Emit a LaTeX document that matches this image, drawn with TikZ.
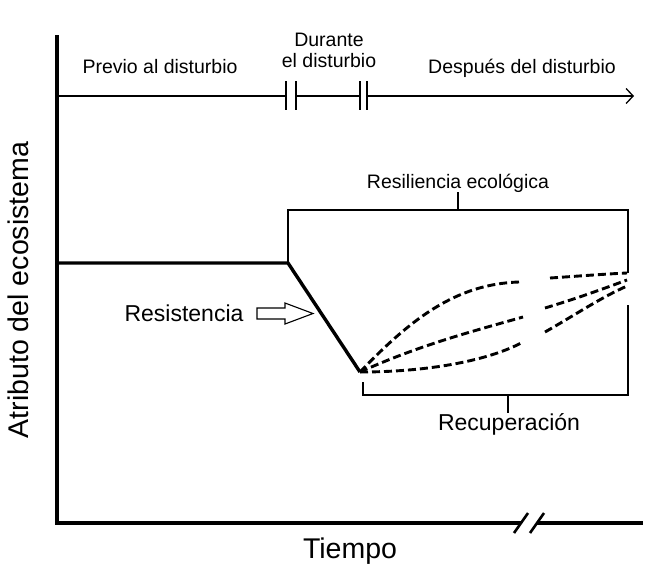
\documentclass[tikz,border=0pt]{standalone}
\usepackage{fontspec}
\setmainfont{Liberation Sans}
\usetikzlibrary{arrows.meta}

\begin{document}
\begin{tikzpicture}[
    x=1pt, y=-1pt,
    axis/.style={line width=3.5pt},
    thinline/.style={line width=1.3pt},
    recov/.style={line width=2.9pt, dash pattern=on 8pt off 4pt},
    lbl/.style={font=\fontsize{19.5}{22}\selectfont, anchor=base, inner sep=0pt},
    biglbl/.style={font=\fontsize{23}{26}\selectfont, anchor=base, inner sep=0pt},
    axlbl/.style={font=\fontsize{28.5}{32}\selectfont, anchor=base, inner sep=0pt},
]
\useasboundingbox (0,0) rectangle (650,574);

% Axes
\coordinate (origin) at (57,523);
\coordinate (ytop) at (57,35);
\coordinate (brkL) at (521,523);
\coordinate (brkR) at (537,523);
\coordinate (xend) at (643,523);
\draw[axis] (ytop) -- (origin) -- (brkL);
\draw[axis] (brkR) -- (xend);
\draw[line width=2.6pt] (514,533) -- (528,513);
\draw[line width=2.6pt] (530,533) -- (544,513);

\node[axlbl, rotate=90] (ylab) at (28,290) {Atributo del ecosistema};
\node[axlbl] (xlab) at (350,558) {Tiempo};

% Timeline
\draw[thinline] (57,96) -- (286,96);
\draw[thinline] (296,96) -- (360,96);
\draw[thinline, -{Straight Barb[length=7pt, width=15pt]}] (367,96) -- (634,96);
\foreach \bx in {286, 296, 360, 367}
    \draw[thinline] (\bx,81) -- (\bx,110);

\node[lbl] (before) at (160,73) {Previo al disturbio};
\node[lbl] (during1) at (329,46) {Durante};
\node[lbl] (during2) at (329,67) {el disturbio};
\node[lbl] (after) at (522,73) {Después del disturbio};

% Ecosystem attribute
\coordinate (knee) at (288,263);
\coordinate (trough) at (360,372);
\draw[line width=3.4pt] (57,263) -- (knee) -- (trough);

% Recovery paths
\coordinate (endA) at (627,273);
\coordinate (endB) at (627,280);
\coordinate (endC) at (627,286);
\draw[recov] (trough) .. controls (410,320) and (455,284) .. (519,282);
\draw[recov] (550,278) .. controls (580,276) and (605,274) .. (endA);
\draw[recov] (trough) .. controls (420,345) and (470,332) .. (523,317);
\draw[recov] (545,308) .. controls (575,299) and (600,290) .. (endB);
\draw[recov] (trough) .. controls (430,372) and (490,360) .. (523,342);
\draw[recov] (545,332) .. controls (575,315) and (600,298) .. (endC);

% Resilience bracket
\node[lbl] (resil) at (458,188) {Resiliencia ecológica};
\coordinate (rtick) at (458,210);
\draw[thinline] (knee) -- (288,210) -- (628,210) -- (628,273);
\draw[thinline] (rtick) -- (rtick |- resil.south);

% Recovery bracket
\node[biglbl] (recup) at (509,430) {Recuperación};
\coordinate (ctick) at (508,395);
\draw[thinline] (363,382) -- (363,395) -- (628,395) -- (628,305);
\draw[thinline] (ctick) -- (ctick |- recup.north);

% Resistance
\node[biglbl] (resist) at (184,321) {Resistencia};
\draw[line width=1.1pt] (257,308) -- (285,308) -- (285,303) -- (313,313.5)
    -- (285,324) -- (285,319) -- (257,319) -- cycle;

\end{tikzpicture}
\end{document}
